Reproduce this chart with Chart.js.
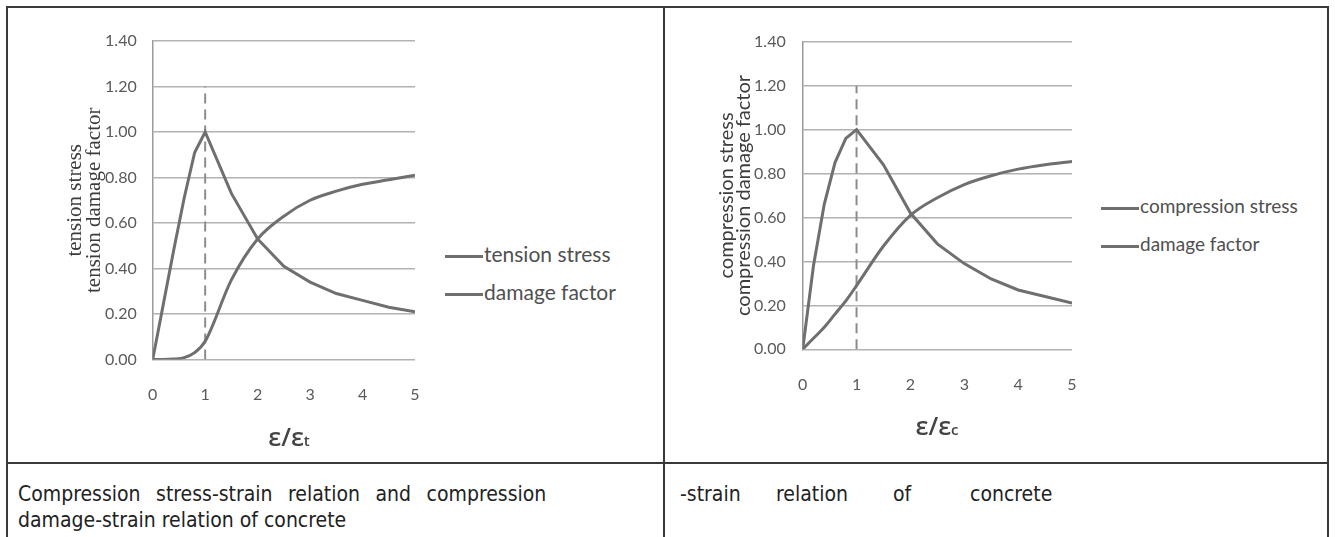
<!DOCTYPE html>
<html>
<head>
<meta charset="utf-8">
<script src="https://cdn.jsdelivr.net/npm/chart.js@4.4.1/dist/chart.umd.min.js"></script>
<style>
  body { margin: 0; background: #fff; width: 1335px; height: 537px; overflow: hidden; position: relative; }
  .ln { position: absolute; background: #3a3a3a; }
  .wrap { position: absolute; width: 430px; height: 420px; }
  .legend { position: absolute; font-family: Lato, sans-serif; color: #505050; }
  .legend div { height: 38px; line-height: 38px; white-space: nowrap; }
  .legend span.sw { display: inline-block; width: 38px; height: 3px; background: #6f6f6f; vertical-align: middle; margin-right: 1px; }
  .xt { position: absolute; font-family: 'Open Sans', sans-serif; font-weight: 600; font-size: 25px; color: #444; transform: translate(-50%, -50%); white-space: nowrap; }
  .xt small { font-size: 15px; font-weight: 600; }
  .cap { position: absolute; font-family: 'Liberation Sans Narrow', 'DejaVu Sans Condensed', 'Liberation Sans', sans-serif; font-size: 21px; line-height: 26px; color: #222; white-space: nowrap; }
</style>
</head>
<body>
<div class="ln" style="left:6px;top:6px;width:1323px;height:2px"></div>
<div class="ln" style="left:6px;top:6px;width:2px;height:540px"></div>
<div class="ln" style="left:663px;top:6px;width:2px;height:540px"></div>
<div class="ln" style="left:1327px;top:6px;width:2px;height:540px"></div>
<div class="ln" style="left:6px;top:462px;width:1323px;height:2px"></div>

<div class="wrap" style="left:8px;top:8px"><canvas id="tension"></canvas></div>
<div class="wrap" style="left:666px;top:8px"><canvas id="compression"></canvas></div>

<div class="legend" id="legT" style="left:445px;top:235px;font-size:21px"></div>
<div class="legend" id="legC" style="left:1101px;top:187px;font-size:19px"></div>

<div class="xt" style="left:289px;top:436px">ε/ε<small>t</small></div>
<div class="xt" style="left:937px;top:425px">ε/ε<small>c</small></div>

<div class="cap" style="left:18px;top:481px"><span style="word-spacing:9.5px">Compression stress-strain relation and compression</span><br>damage-strain relation of concrete</div>
<div class="cap" style="left:680px;top:481px">-strain</div>
<div class="cap" style="left:776px;top:481px">relation</div>
<div class="cap" style="left:893px;top:481px">of</div>
<div class="cap" style="left:970px;top:481px">concrete</div>

<script>
// data
const tensionStrain = [0, 0.2, 0.4, 0.6, 0.8, 1, 1.5, 2, 2.5, 3, 3.5, 4, 4.5, 5];
const tensionStress = [0, 0.24, 0.48, 0.71, 0.91, 1.0, 0.73, 0.53, 0.41, 0.34, 0.29, 0.26, 0.23, 0.21];
const tensionDamage = [0, 0, 0.002, 0.008, 0.03, 0.08, 0.35, 0.53, 0.63, 0.70, 0.74, 0.77, 0.79, 0.81];

const compStrain = [0, 0.2, 0.4, 0.6, 0.8, 1, 1.5, 2, 2.5, 3, 3.5, 4, 4.5, 5];
const compStress = [0, 0.38, 0.66, 0.85, 0.96, 1.0, 0.84, 0.62, 0.48, 0.39, 0.32, 0.27, 0.24, 0.21];
const compDamage = [0, 0.05, 0.10, 0.16, 0.22, 0.29, 0.47, 0.61, 0.69, 0.75, 0.79, 0.82, 0.84, 0.855];

const peakX = [1, 1];
const peakY = [0, 1.2];

const xTicks = [0, 1, 2, 3, 4, 5];
const yTicks = [0, 0.2, 0.4, 0.6, 0.8, 1.0, 1.2, 1.4];

const tensionLabels = ['tension stress', 'damage factor'];
const compLabels = ['compression stress', 'damage factor'];

const lineColor = '#6f6f6f';
const tickFont = { family: 'Lato, sans-serif', size: 16 };

function pts(xs, ys) {
    return xs.map((x, i) => ({ x: x, y: ys[i] }));
}

function buildChart(id, labels, strain, stress, damage, box, yTitle) {
    const ctx = document.getElementById(id);
    return new Chart(ctx, {
        type: 'line',
        data: {
            datasets: [
                { label: labels[0], data: pts(strain, stress), borderColor: lineColor, borderWidth: 3, pointRadius: 0, tension: 0 },
                { label: labels[1], data: pts(strain, damage), borderColor: lineColor, borderWidth: 3, pointRadius: 0, cubicInterpolationMode: 'monotone' },
                { label: 'peak', data: pts(peakX, peakY), borderColor: '#8c8c8c', borderWidth: 2, borderDash: [10, 6], pointRadius: 0 }
            ]
        },
        options: {
            responsive: true,
            maintainAspectRatio: false,
            animation: false,
            events: [],
            layout: { padding: { left: box.L, right: box.R, top: box.T, bottom: box.B } },
            plugins: { legend: { display: false }, tooltip: { enabled: false } },
            scales: {
                x: {
                    type: 'linear', min: 0, max: 5,
                    afterBuildTicks: s => { s.ticks = xTicks.map(v => ({ value: v })); },
                    ticks: { padding: 26, color: '#5a5a5a', font: tickFont, maxRotation: 0 },
                    grid: { display: false, drawTicks: false },
                    border: { display: false },
                    afterFit: s => { s.height = 60; s.paddingLeft = 0; s.paddingRight = 0; }
                },
                y: {
                    min: 0, max: 1.4,
                    afterBuildTicks: s => { s.ticks = yTicks.map(v => ({ value: v })); },
                    ticks: { padding: box.tp, color: '#5a5a5a', font: tickFont, callback: v => v.toFixed(2) },
                    grid: { color: '#b2b2b2', lineWidth: 1.5, drawTicks: false },
                    border: { color: '#9a9a9a', width: 1.5 },
                    title: { display: true, text: yTitle.text, color: '#3c3c3c', font: yTitle.font, padding: { top: yTitle.pad, bottom: 0 } },
                    afterFit: s => { s.width = box.W; s.paddingTop = 0; s.paddingBottom = 0; }
                }
            }
        }
    });
}

function buildLegend(id, labels) {
    const el = document.getElementById(id);
    labels.forEach(t => {
        const row = document.createElement('div');
        row.innerHTML = '<span class="sw"></span>' + t;
        el.appendChild(row);
    });
}

buildChart('tension', tensionLabels, tensionStrain, tensionStress, tensionDamage,
    { L: 40, W: 104.7, R: 23, T: 33, B: 8.5, tp: 16 },
    { text: ['tension stress', 'tension damage factor'], font: { family: "'Liberation Serif', serif", size: 21, lineHeight: '19px' }, pad: 17.5 });

buildChart('compression', compLabels, compStrain, compStress, compDamage,
    { L: 40, W: 96.7, R: 24, T: 33.7, B: 18.7, tp: 17 },
    { text: ['compression stress', 'compression damage factor'], font: { family: 'Lato, sans-serif', size: 20, lineHeight: '17px' }, pad: 12.5 });

buildLegend('legT', tensionLabels);
buildLegend('legC', compLabels);
</script>
</body>
</html>
